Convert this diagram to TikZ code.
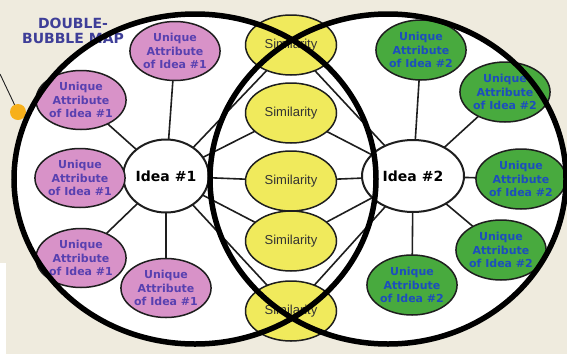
\documentclass[tikz,border=0pt]{standalone}
\usepackage{fontspec}
\setmainfont{DejaVu Sans}
\newfontfamily\arialfont{Liberation Sans}
\usetikzlibrary{shapes.geometric}
\definecolor{creambg}{RGB}{239,235,222}
\definecolor{pinkfill}{RGB}{216,146,200}
\definecolor{pinktext}{RGB}{88,64,176}
\definecolor{greenfill}{RGB}{72,170,62}
\definecolor{greentext}{RGB}{28,78,190}
\definecolor{yellowfill}{RGB}{240,234,92}
\definecolor{titleblue}{RGB}{62,62,152}
\definecolor{dotorange}{RGB}{247,176,26}
\definecolor{edgegray}{RGB}{30,30,30}
\pgfdeclarelayer{bglayer}
\pgfdeclarelayer{linklayer}
\pgfdeclarelayer{toplayer}
\pgfsetlayers{bglayer,linklayer,main,toplayer}
\tikzset{
  bubble/.style={ellipse, draw=edgegray, line width=1.5pt, inner sep=0pt, align=center},
  pinkbub/.style={bubble, fill=pinkfill, text=pinktext, minimum width=82pt, minimum height=59pt,
    font=\bfseries\fontsize{11}{13.3}\selectfont},
  greenbub/.style={bubble, fill=greenfill, text=greentext, minimum width=83pt, minimum height=60pt,
    font=\bfseries\fontsize{11}{13.3}\selectfont},
  simbub/.style={bubble, fill=yellowfill, text=black!80, minimum width=91pt, minimum height=60pt,
    font=\arialfont\fontsize{13}{15}\selectfont},
  ideabub/.style={bubble, fill=white, line width=2pt, text=black, font=\bfseries\fontsize{14}{16}\selectfont},
  link/.style={draw=edgegray, line width=1.6pt},
  bigring/.style={draw=black, line width=5.5pt},
}
\begin{document}
\begin{tikzpicture}[x=1pt,y=-1pt]
\useasboundingbox (0,0) rectangle (567,354);
\begin{pgfonlayer}{bglayer}
\fill[creambg] (0,0) rectangle (567,354);
\fill[white] (0,263) rectangle (6,354);
\fill[white] (195,179) ellipse [x radius=181, y radius=165];
\fill[white] (388,179) ellipse [x radius=178, y radius=165];
\end{pgfonlayer}
% title
\node[text=titleblue, font=\bfseries\fontsize{14}{15}\selectfont, align=center, inner sep=0pt] (title) at (73,31) {DOUBLE-\\BUBBLE MAP};
% pointer and dot
\coordinate (pend) at (0,74);
\node[circle, fill=dotorange, minimum size=16pt, inner sep=0pt] (dot) at (18,112) {};
\begin{pgfonlayer}{linklayer}
\draw[edgegray, line width=0.9pt] (pend) -- (dot.center);
\end{pgfonlayer}
% central ideas
\node[ideabub, minimum width=84pt, minimum height=73pt] (i1) at (166,176) {Idea \#1};
\node[ideabub, minimum width=102pt, minimum height=72pt] (i2) at (413,176) {Idea \#2};
% similarities
\node[simbub] (s1) at (291,45) {Similarity};
\node[simbub] (s2) at (291,113) {Similarity};
\node[simbub] (s3) at (291,181) {Similarity};
\node[simbub] (s4) at (291,241) {Similarity};
\node[simbub] (s5) at (291,311) {Similarity};
% unique attributes of idea 1
\node[pinkbub] (p1) at (175,51) {Unique\\Attribute\\of Idea \#1};
\node[pinkbub] (p2) at (81,100) {Unique\\Attribute\\of Idea \#1};
\node[pinkbub] (p3) at (80,178) {Unique\\Attribute\\of Idea \#1};
\node[pinkbub] (p4) at (81,258) {Unique\\Attribute\\of Idea \#1};
\node[pinkbub] (p5) at (166,288) {Unique\\Attribute\\of Idea \#1};
% unique attributes of idea 2
\node[greenbub] (g1) at (421,50) {Unique\\Attribute\\of Idea \#2};
\node[greenbub] (g2) at (505,92) {Unique\\Attribute\\of Idea \#2};
\node[greenbub] (g3) at (521,179) {Unique\\Attribute\\of Idea \#2};
\node[greenbub] (g4) at (501,250) {Unique\\Attribute\\of Idea \#2};
\node[greenbub] (g5) at (412,285) {Unique\\Attribute\\of Idea \#2};
% connectors behind the bubbles
\begin{pgfonlayer}{linklayer}
\foreach \n in {p1,p2,p3,p4,p5,s1,s2,s3,s4,s5} {\draw[link] (i1.center) -- (\n.center);}
\foreach \n in {g1,g2,g3,g4,g5,s1,s2,s3,s4,s5} {\draw[link] (i2.center) -- (\n.center);}
\end{pgfonlayer}
% the two big rings on top
\begin{pgfonlayer}{toplayer}
\draw[bigring] (195,179) ellipse [x radius=181, y radius=165];
\draw[bigring] (388,179) ellipse [x radius=178, y radius=165];
\end{pgfonlayer}
\end{tikzpicture}
\end{document}
